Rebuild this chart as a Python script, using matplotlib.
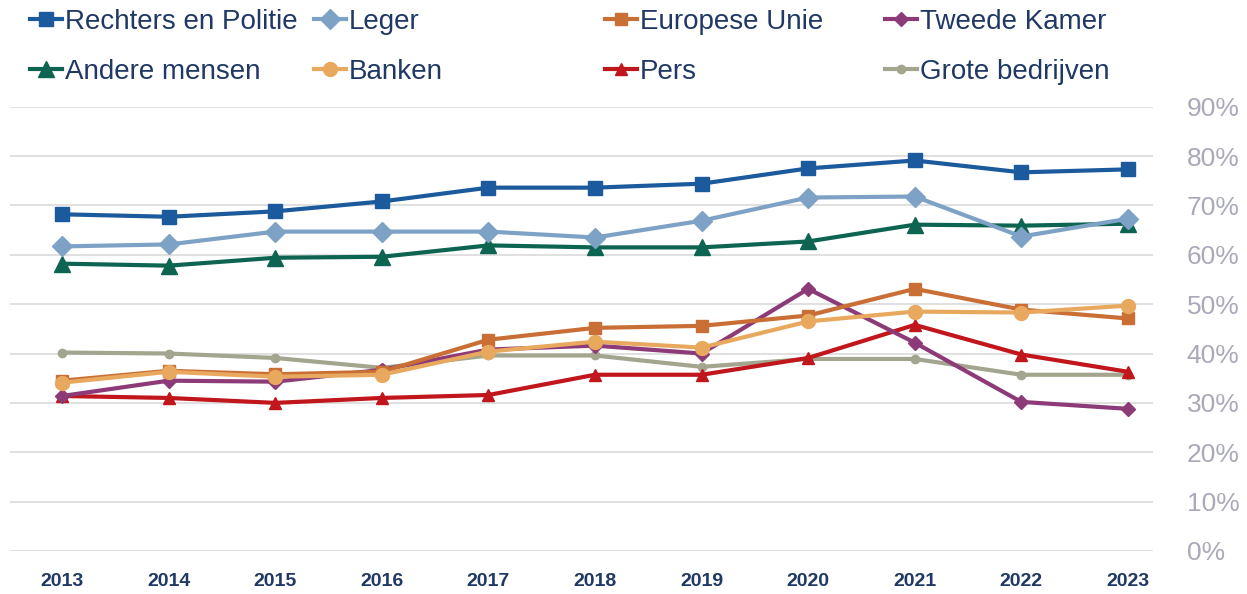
import matplotlib.pyplot as plt
from matplotlib.ticker import FuncFormatter

jaren = [2013, 2014, 2015, 2016, 2017, 2018, 2019, 2020, 2021, 2022, 2023]

rechters = [68.2, 67.7, 68.8, 70.8, 73.6, 73.6, 74.4, 77.5, 79.1, 76.7, 77.3]
leger = [61.7, 62.1, 64.7, 64.7, 64.7, 63.5, 66.9, 71.6, 71.8, 63.7, 67.3]
eu = [34.5, 36.5, 35.8, 36.3, 42.8, 45.2, 45.6, 47.7, 53.1, 48.9, 47.1]
kamer = [31.4, 34.5, 34.3, 36.7, 40.8, 41.6, 40.0, 53.1, 42.2, 30.2, 28.8]
andere = [58.2, 57.8, 59.4, 59.6, 61.9, 61.5, 61.5, 62.7, 66.1, 65.9, 66.3]
banken = [34.1, 36.3, 35.3, 35.7, 40.4, 42.4, 41.2, 46.5, 48.5, 48.3, 49.7]
pers = [31.4, 31.0, 30.0, 31.0, 31.6, 35.7, 35.7, 39.1, 45.8, 39.8, 36.3]
bedrijven = [40.2, 40.0, 39.1, 37.1, 39.6, 39.6, 37.3, 38.9, 38.9, 35.7, 35.7]

yticks = [0, 10, 20, 30, 40, 50, 60, 70, 80, 90]

navy = '#1F3864'
plt.rcParams['font.family'] = ['Liberation Sans', 'DejaVu Sans']

fig = plt.figure(figsize=(12.47, 5.94), dpi=100)
ax = fig.add_axes([0.008, 0.0724, 0.917, 0.748])

# volgorde van tekenen: onderste lijnen eerst
l_bed, = ax.plot(jaren, bedrijven, color='#A3A58E', lw=3, marker='o', ms=6, label='Grote bedrijven')
l_pers, = ax.plot(jaren, pers, color='#C0161C', lw=3, marker='^', ms=9, label='Pers')
l_kam, = ax.plot(jaren, kamer, color='#8C3A78', lw=3, marker='D', ms=7, label='Tweede Kamer')
l_eu, = ax.plot(jaren, eu, color='#C96F35', lw=3, marker='s', ms=8, label='Europese Unie')
l_ban, = ax.plot(jaren, banken, color='#E8A95E', lw=3, marker='o', ms=10, label='Banken')
l_and, = ax.plot(jaren, andere, color='#0D6450', lw=3, marker='^', ms=11, label='Andere mensen')
l_leg, = ax.plot(jaren, leger, color='#7EA2C6', lw=3, marker='D', ms=10, label='Leger')
l_rec, = ax.plot(jaren, rechters, color='#1B5A9C', lw=3, marker='s', ms=10, label='Rechters en Politie')

ax.set_xlim(2012.51, 2023.24)
ax.set_ylim(0, 90)
ax.set_yticks(yticks)
ax.yaxis.set_major_formatter(FuncFormatter(lambda v, p: '%d%%' % v))
ax.yaxis.tick_right()
ax.set_xticks(jaren)
ax.grid(axis='y', color='#DADADA', lw=1.2)
ax.set_axisbelow(True)
for s in ax.spines.values():
    s.set_visible(False)
ax.tick_params(axis='y', length=0, pad=24, labelsize=19, labelcolor='#A9A9BA')
ax.tick_params(axis='x', length=0, pad=16, labelsize=14, labelcolor=navy)
for t in ax.get_xticklabels():
    t.set_fontweight('bold')

kolommen = [(0.024, [l_rec, l_and]), (0.252, [l_leg, l_ban]),
            (0.485, [l_eu, l_pers]), (0.71, [l_kam, l_bed])]
for x, hs in kolommen:
    lg = fig.legend(handles=hs, loc='upper left', bbox_to_anchor=(x, 0.985), frameon=False,
                    borderpad=0, borderaxespad=0, handlelength=1.15, handletextpad=0.1,
                    labelspacing=0.85, prop={'size': 20})
    for t in lg.get_texts():
        t.set_color(navy)

plt.savefig('out.png', dpi=100)
